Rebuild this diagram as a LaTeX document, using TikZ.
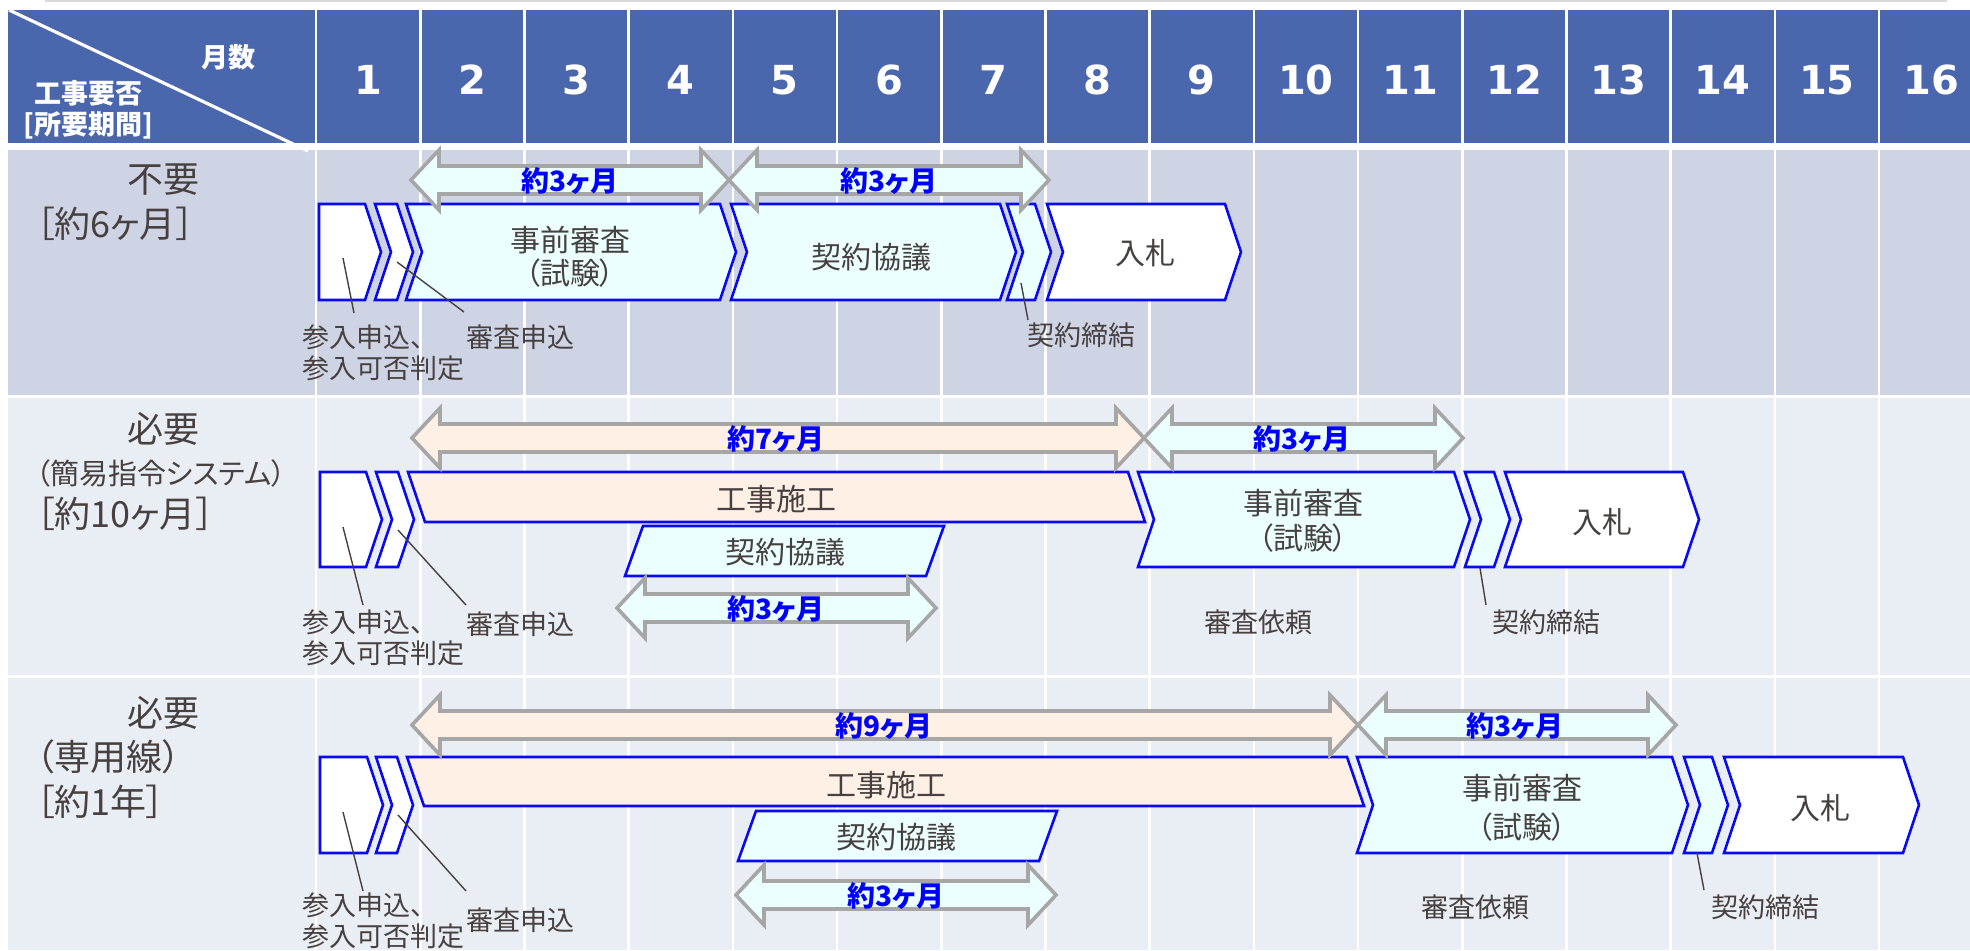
\documentclass[tikz,border=0pt]{standalone}
\usepackage{fontspec}
\setmainfont{Noto Sans CJK JP}[RawFeature=+palt]
\newfontfamily\numfont{DejaVu Sans}
\usetikzlibrary{positioning}

\definecolor{hdblue}{RGB}{74,102,172}
\definecolor{bgdark}{RGB}{207,212,229}
\definecolor{bglight}{RGB}{233,237,244}
\definecolor{chevblue}{RGB}{10,10,240}
\definecolor{cyanf}{RGB}{236,255,255}
\definecolor{peach}{RGB}{255,240,230}
\definecolor{arrgray}{RGB}{166,166,166}
\definecolor{txtgray}{RGB}{70,64,64}
\definecolor{lblblue}{RGB}{0,0,255}

\tikzset{
  box/.style={draw=chevblue, line width=1.3pt},
  dur/.style={draw=arrgray, line width=1.8pt},
  durlbl/.style={text=lblblue, font=\bfseries\fontsize{14}{16}\selectfont, inner sep=0pt},
  boxlbl/.style={text=txtgray, font=\fontsize{15}{17.5}\selectfont, inner sep=0pt},
  note/.style={text=txtgray, font=\fontsize{13.5}{15.5}\selectfont, inner sep=0pt, align=left},
  callout/.style={draw=txtgray, line width=0.7pt},
  hdnum/.style={text=white, font=\numfont\bfseries\fontsize{20}{22}\selectfont, inner sep=0pt},
  hdlbl/.style={text=white, font=\bfseries\fontsize{13.5}{15}\selectfont, inner sep=0pt},
  rowlbl/.style={text=txtgray, font=\fontsize{18}{20}\selectfont, inner sep=0pt},
}

% boxes: left x, right corner x, top y, bottom y
\newcommand{\firstbox}[4]{\draw[box,fill=white] (#1,#3) -- (#2,#3) -- ({#2+16},{(#3+#4)/2}) -- (#2,#4) -- (#1,#4) -- cycle;}
\newcommand{\stepbox}[5]{\draw[box,fill=#5] (#1,#3) -- (#2,#3) -- ({#2+16},{(#3+#4)/2}) -- (#2,#4) -- (#1,#4) -- ({#1+16},{(#3+#4)/2}) -- cycle;}
\newcommand{\topbar}[4]{\draw[box,fill=peach] (#1,#3) -- (#2,#3) -- ({#2+17},#4) -- ({#1+17},#4) -- cycle;}
\newcommand{\lowbar}[4]{\draw[box,fill=cyanf] ({#1+18},#3) -- ({#2+18},#3) -- (#2,#4) -- (#1,#4) -- cycle;}
% double arrow: left tip, right tip, centre y, fill
\newcommand{\durarrow}[4]{\draw[dur,fill=#4] (#1,#3) -- ({#1+28},{#3-30}) -- ({#1+28},{#3-14}) -- ({#2-28},{#3-14}) -- ({#2-28},{#3-30}) -- (#2,#3) -- ({#2-28},{#3+30}) -- ({#2-28},{#3+14}) -- ({#1+28},{#3+14}) -- ({#1+28},{#3+30}) -- cycle;}

\begin{document}
\begin{tikzpicture}[x=0.5pt,y=-0.5pt]
\useasboundingbox (0,0) rectangle (1970,950);
\fill[white] (0,0) rectangle (1970,950);
\draw[black!15, line width=0.6pt] (45,1) -- (1947,1);
\fill[hdblue] (8,10) rectangle (1970,143);
\fill[bgdark] (8,150) rectangle (1970,395);
\fill[bglight] (8,398) rectangle (1970,675);
\fill[bglight] (8,678) rectangle (1970,950);
\foreach \k in {0,...,15}
  \draw[white, line width=1.3pt] ({316+\k*104.2},10) -- ({316+\k*104.2},950);
\draw[white, line width=1.6pt] (9,10) -- (308,151);

% header
\foreach \m in {1,...,16}
  \node[hdnum] (mon\m) at ({316+(\m-0.5)*104.2},80) {\m};
\node[hdlbl] (hd-mon) at (228,57) {月数};
\node[hdlbl] (hd-need) at (88,93) {工事要否};
\node[hdlbl] (hd-term) at (88,125) {[所要期間]};

% row labels
\node[rowlbl] (r1-a) at (163,180) {不要};
\node[rowlbl, anchor=west] (r1-b) at (36,224) {［約6ヶ月］};
\node[rowlbl] (r2-a) at (163,429) {必要};
\node[rowlbl, font=\fontsize{14.5}{16}\selectfont] (r2-b) at (161,473) {（簡易指令システム）};
\node[rowlbl, anchor=west] (r2-c) at (36,514) {［約10ヶ月］};
\node[rowlbl] (r3-a) at (163,713) {必要};
\node[rowlbl, anchor=west] (r3-b) at (36,757) {（専用線）};
\node[rowlbl, anchor=west] (r3-c) at (36,802) {［約1年］};

% row 1
\firstbox{319}{365}{204}{300}
\stepbox{375}{397}{204}{300}{white}
\stepbox{406}{720}{204}{300}{cyanf}
\stepbox{731}{1000}{204}{300}{cyanf}
\stepbox{1007}{1035}{204}{300}{cyanf}
\stepbox{1047}{1225}{204}{300}{white}
\node[boxlbl] (r1-exam) at (570,240) {事前審査};
\node[boxlbl] (r1-test) at (570,273) {（試験）};
\node[boxlbl] (r1-talk) at (871,257) {契約協議};
\node[boxlbl] (r1-bid) at (1145,253) {入札};
\durarrow{411}{729}{180}{cyanf}
\durarrow{729}{1049}{180}{cyanf}
\node[durlbl] (r1-d1) at (570,181) {約3ヶ月};
\node[durlbl] (r1-d2) at (889,181) {約3ヶ月};
\node[note, anchor=west] (r1-entry) at (302,353) {参入申込、\\参入可否判定};
\node[note, anchor=west] (r1-apply) at (466,337) {審査申込};
\node[note, anchor=west] (r1-sign) at (1027,335) {契約締結};
\coordinate (r1-p1) at (343,258); \coordinate (r1-q1) at (354,313);
\coordinate (r1-p2) at (397,262); \coordinate (r1-q2) at (464,312);
\coordinate (r1-p3) at (1021,283); \coordinate (r1-q3) at (1028,320);
\draw[callout] (r1-p1) -- (r1-q1);
\draw[callout] (r1-p2) -- (r1-q2);
\draw[callout] (r1-p3) -- (r1-q3);

% row 2
\firstbox{320}{366}{472}{567}
\stepbox{376}{398}{472}{567}{white}
\topbar{408}{1128}{472}{522}
\lowbar{625}{926}{526}{576}
\stepbox{1138}{1454}{472}{567}{cyanf}
\stepbox{1465}{1494}{472}{567}{cyanf}
\stepbox{1505}{1683}{472}{567}{white}
\node[boxlbl] (r2-work) at (776,499) {工事施工};
\node[boxlbl] (r2-talk) at (785,552) {契約協議};
\node[boxlbl] (r2-exam) at (1303,503) {事前審査};
\node[boxlbl] (r2-test) at (1303,538) {（試験）};
\node[boxlbl] (r2-bid) at (1602,522) {入札};
\durarrow{412}{1144}{438}{peach}
\durarrow{1144}{1463}{438}{cyanf}
\durarrow{617}{936}{608}{cyanf}
\node[durlbl] (r2-d1) at (776,439) {約7ヶ月};
\node[durlbl] (r2-d2) at (1302,439) {約3ヶ月};
\node[durlbl] (r2-d3) at (776,609) {約3ヶ月};
\node[note, anchor=west] (r2-entry) at (302,638) {参入申込、\\参入可否判定};
\node[note, anchor=west] (r2-apply) at (466,624) {審査申込};
\node[note] (r2-req) at (1258,622) {審査依頼};
\node[note, anchor=west] (r2-sign) at (1492,622) {契約締結};
\coordinate (r2-p1) at (343,527); \coordinate (r2-q1) at (363,605);
\coordinate (r2-p2) at (398,530); \coordinate (r2-q2) at (466,605);
\coordinate (r2-p3) at (1480,568); \coordinate (r2-q3) at (1486,605);
\draw[callout] (r2-p1) -- (r2-q1);
\draw[callout] (r2-p2) -- (r2-q2);
\draw[callout] (r2-p3) -- (r2-q3);

% row 3
\firstbox{320}{367}{757}{853}
\stepbox{376}{397}{757}{853}{white}
\topbar{407}{1347}{757}{806}
\lowbar{738}{1039}{811}{861}
\stepbox{1357}{1672}{757}{853}{cyanf}
\stepbox{1684}{1712}{757}{853}{cyanf}
\stepbox{1724}{1903}{757}{853}{white}
\node[boxlbl] (r3-work) at (886,785) {工事施工};
\node[boxlbl] (r3-talk) at (896,837) {契約協議};
\node[boxlbl] (r3-exam) at (1522,788) {事前審査};
\node[boxlbl] (r3-test) at (1522,827) {（試験）};
\node[boxlbl] (r3-bid) at (1820,808) {入札};
\durarrow{412}{1358}{725}{peach}
\durarrow{1358}{1676}{725}{cyanf}
\durarrow{736}{1056}{895}{cyanf}
\node[durlbl] (r3-d1) at (884,726) {約9ヶ月};
\node[durlbl] (r3-d2) at (1515,726) {約3ヶ月};
\node[durlbl] (r3-d3) at (896,896) {約3ヶ月};
\node[note, anchor=west] (r3-entry) at (302,921) {参入申込、\\参入可否判定};
\node[note, anchor=west] (r3-apply) at (466,920) {審査申込};
\node[note] (r3-req) at (1475,907) {審査依頼};
\node[note, anchor=west] (r3-sign) at (1711,907) {契約締結};
\coordinate (r3-p1) at (343,812); \coordinate (r3-q1) at (363,891);
\coordinate (r3-p2) at (398,815); \coordinate (r3-q2) at (466,891);
\coordinate (r3-p3) at (1697,853); \coordinate (r3-q3) at (1704,890);
\draw[callout] (r3-p1) -- (r3-q1);
\draw[callout] (r3-p2) -- (r3-q2);
\draw[callout] (r3-p3) -- (r3-q3);
\end{tikzpicture}
\end{document}
